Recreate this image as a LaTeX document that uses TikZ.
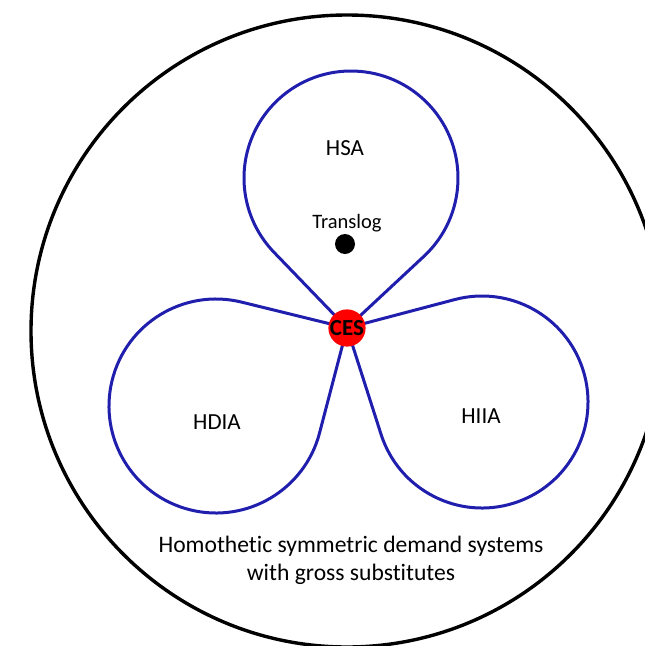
\documentclass[tikz,border=0pt]{standalone}
\usepackage{fontspec}
\setmainfont[Ligatures=NoCommon]{Carlito}
\usetikzlibrary{calc}
\definecolor{lobeblue}{RGB}{32,30,172}
\definecolor{cesred}{RGB}{255,0,0}
\tikzset{
  lobe/.style={draw=lobeblue, line width=3pt, line join=round},
  outer/.style={draw=black, line width=3.4pt},
  label/.style={font=\fontsize{23}{26}\selectfont, inner sep=0pt},
  smalllabel/.style={font=\fontsize{20.5}{23}\selectfont, inner sep=0pt},
}
\begin{document}
\begin{tikzpicture}[x=1pt,y=1pt]
\useasboundingbox (0,0) rectangle (645,-646);
\clip (0,0) rectangle (645,-646);
% outer circle
\coordinate (big) at (347,-331);
\draw[outer] (big) circle[radius=316];
% centres
\coordinate (P) at (347,-328);
\coordinate (hsaC) at (351,-178);
\coordinate (hdiaC) at (216,-406);
\coordinate (hiiaC) at (482,-402);
% lobes
\draw[lobe] (P) -- ($(hsaC)+(312.98:107)$) arc[start angle=312.98, end angle=583.96, radius=107] -- cycle;
\draw[lobe] (P) -- ($(hdiaC)+(76.19:107)$) arc[start angle=76.19, end angle=345.35, radius=107] -- cycle;
\draw[lobe] (P) -- ($(hiiaC)+(197.76:106)$) arc[start angle=197.76, end angle=464.78, radius=106] -- cycle;
% translog point
\node[circle, fill=black, minimum size=20pt, inner sep=0pt] (translog) at (345,-244) {};
\node[smalllabel] (translogtxt) at (347,-223) {Translog};
% CES
\node[circle, fill=cesred, minimum size=34pt, inner sep=0pt,
      font=\fontsize{23}{26}\selectfont\bfseries] (ces) at (P) {CES};
% labels
\node[label] (hsa) at (345,-148) {HSA};
\node[label] (hdia) at (217,-422) {HDIA};
\node[label] (hiia) at (481,-416) {HIIA};
\node[inner sep=0pt, align=center, font=\fontsize{23.6}{28}\selectfont] (caption) at (351,-560)
  {Homothetic symmetric demand systems\\with gross substitutes};
\end{tikzpicture}
\end{document}
